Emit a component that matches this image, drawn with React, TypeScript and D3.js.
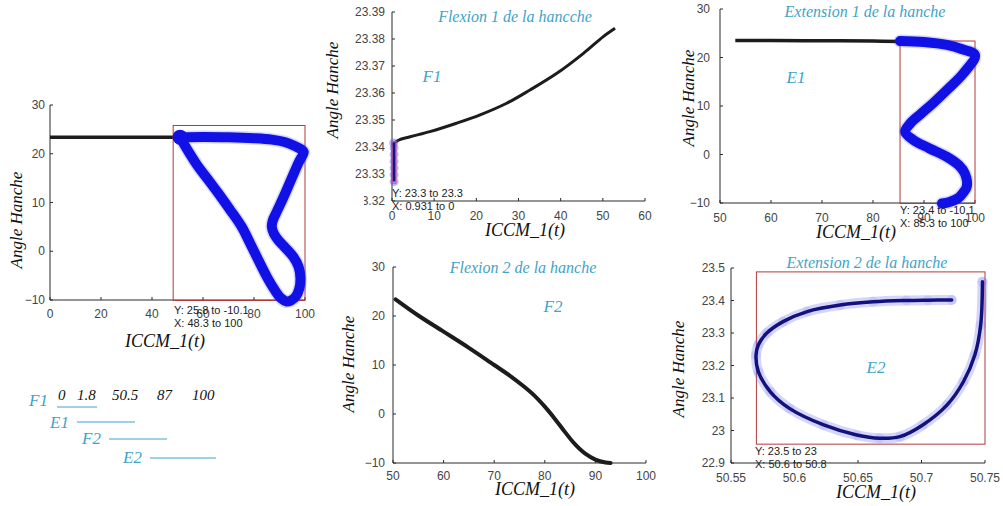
import React from "react";
import * as d3 from "d3";

// ---------------- DATA ----------------
// Panel A (full trajectory with brush)
const panelA_blackX = [0, 10, 20, 30, 40, 48.3];
const panelA_blackY = [23.4, 23.4, 23.4, 23.4, 23.4, 23.4];
const panelA_loopX = [51, 60, 70, 80, 87, 92, 96, 98.5, 99.5, 97.5, 94.5, 91.5, 89, 87.3, 87, 87.8, 89.5, 92.5, 95.5, 97.5, 98.2, 97.8, 96.5, 94.5, 92.8, 90.5, 88.2, 85, 81.7, 78.5, 75.2, 70.5, 66, 62, 58.2, 54.5, 51];
const panelA_loopY = [23.4, 23.45, 23.4, 23.2, 22.9, 22.4, 21.6, 20.9, 20.4, 18.2, 14.6, 11, 8.2, 6.2, 5, 3.6, 2.3, 0.6, -1.2, -3.2, -5.5, -7.6, -9.2, -10.1, -10.3, -9.6, -8, -5.2, -1.8, 1.6, 5, 8.6, 11.9, 14.7, 17.3, 20.3, 23.4];
const panelA_brushX = [48.3, 100];
const panelA_brushY = [-10.1, 25.8];
const panelA_tip = ["Y: 25.8 to -10.1", "X: 48.3 to 100"];

// F1 : Flexion 1
const f1X = [0, 1.5, 4.3, 9, 15.3, 20.9, 27.2, 32.7, 39.1, 45.4, 50.1, 52.9];
const f1Y = [23.3407, 23.3425, 23.3438, 23.3457, 23.3488, 23.3519, 23.3562, 23.3611, 23.3673, 23.3747, 23.3809, 23.384];
const f1BlueX = [0.5, 0.5, 0.5, 0.5, 0.5, 0.5, 0.4];
const f1BlueY = [23.3272, 23.3297, 23.3322, 23.3347, 23.3372, 23.3397, 23.3415];
const f1BrushX = [0, 0.931];
const f1BrushY = [23.3266, 23.342];
const f1Tip = ["Y: 23.3 to 23.3", "X: 0.931 to 0"];

// F2 : Flexion 2
const f2X = [50.5, 55, 60, 65, 70, 73, 76, 78, 80, 82, 84, 86, 88, 90, 92, 93];
const f2Y = [23.4, 20.1, 16.8, 13.5, 10, 7.9, 5.5, 3.7, 1.5, -1.0, -3.7, -6.2, -8.1, -9.3, -9.9, -10];

// E1 : Extension 1
const e1BlackX = [53, 60, 70, 80, 85.3];
const e1BlackY = [23.5, 23.48, 23.45, 23.4, 23.3];
const e1BlueX = [85.3, 90, 94.5, 97.5, 100, 97.7, 94.8, 91.8, 89.3, 87.3, 86.3, 87.9, 91, 94.5, 96.8, 98, 98.4, 97.6, 96.7, 95, 93.5];
const e1BlueY = [23.4, 23.2, 22.6, 21.7, 20.5, 16.7, 13.6, 10.6, 8.3, 6.4, 4.7, 3.0, 1.3, -0.5, -2.2, -3.9, -6.6, -8, -9.0, -9.8, -10.1];
const e1BrushX = [85.3, 100];
const e1BrushY = [-10.1, 23.4];
const e1Tip = ["Y: 23.4 to -10.1", "X: 85.3 to 100"];

// E2 : Extension 2
const e2X = [50.7238, 50.705, 50.688, 50.662, 50.636, 50.61, 50.591, 50.578, 50.5715, 50.5697, 50.5715, 50.581, 50.596, 50.623, 50.649, 50.667, 50.683, 50.701, 50.72, 50.733, 50.742, 50.7466, 50.748];
const e2Y = [23.4015, 23.401, 23.4, 23.396, 23.386, 23.366, 23.335, 23.299, 23.263, 23.232, 23.181, 23.119, 23.068, 23.017, 22.986, 22.976, 22.981, 23.017, 23.078, 23.15, 23.232, 23.325, 23.458];
const e2BrushX = [50.57, 50.75];
const e2BrushY = [22.958, 23.488];
const e2Tip = ["Y: 23.5 to 23", "X: 50.6 to 50.8"];

// Ticks
const ticksA_X = [0, 20, 40, 60, 80, 100];
const ticksA_Y = [-10, 0, 10, 20, 30];
const ticksF1_X = [0, 10, 20, 30, 40, 50, 60];
const ticksF1_Y = [23.32, 23.33, 23.34, 23.35, 23.36, 23.37, 23.38, 23.39];
const ticks50_100 = [50, 60, 70, 80, 90, 100];
const ticksAngle = [-10, 0, 10, 20, 30];
const ticksE2_X = [50.55, 50.6, 50.65, 50.7, 50.75];
const ticksE2_Y = [22.9, 23, 23.1, 23.2, 23.3, 23.4, 23.5];

// Texts
const yLabel = "Angle Hanche";
const xLabel = "ICCM_1(t)";
const titles = ["Flexion 1 de la hancche", "Flexion 2 de la hanche", "Extension 1 de la hanche", "Extension 2 de la hanche"];
const phaseNames = ["F1", "E1", "F2", "E2"];
const legendNums = ["0", "1.8", "50.5", "87", "100"];

// ---------------- STYLE ----------------
const AXIS = "#2b2b2b";
const TICKTXT = "#454545";
const CYAN = "#3fa3c7";
const SERIF = "'Liberation Serif', 'DejaVu Serif', serif";
const SANS = "'Liberation Sans', Arial, sans-serif";
const BRUSH = "#b23a3a";

type Pt = [number, number];
const zip = (xs: number[], ys: number[]): Pt[] => xs.map((v, i) => [v, ys[i]]);
const fmt = d3.format("~g");

interface AxProps {
  x: d3.ScaleLinear<number, number>;
  y: d3.ScaleLinear<number, number>;
  xt: number[];
  yt: number[];
  fs: number;
  xdy: number;
  ydx: number;
}

function Axes({ x, y, xt, yt, fs, xdy, ydx }: AxProps) {
  const [x0, x1] = x.range();
  const [y0, y1] = y.range();
  return (
    <g>
      <line x1={x0} x2={x1} y1={y0} y2={y0} stroke={AXIS} strokeWidth={1} />
      <line x1={x0} x2={x0} y1={y0} y2={y1} stroke={AXIS} strokeWidth={1} />
      {xt.map((t) => (
        <g key={"x" + t}>
          <line x1={x(t)} x2={x(t)} y1={y0} y2={y0 - 3} stroke={AXIS} />
          <text x={x(t)} y={y0 + xdy} textAnchor="middle" fontSize={fs} fill={TICKTXT} fontFamily={SANS}>{fmt(t)}</text>
        </g>
      ))}
      {yt.map((t) => (
        <g key={"y" + t}>
          <line x1={x0} x2={x0 + 3} y1={y(t)} y2={y(t)} stroke={AXIS} />
          <text x={x0 - ydx} y={y(t)} dy="0.35em" textAnchor="end" fontSize={fs} fill={TICKTXT} fontFamily={SANS}>{fmt(t)}</text>
        </g>
      ))}
    </g>
  );
}

function YLab({ x, cy }: { x: number; cy: number }) {
  return (
    <text transform={`translate(${x},${cy}) rotate(-90)`} textAnchor="middle" fontSize={17} fontStyle="italic" fontFamily={SERIF} fill="#111">{yLabel}</text>
  );
}
function XLab({ cx, y }: { cx: number; y: number }) {
  return (
    <text x={cx} y={y} textAnchor="middle" fontSize={18} fontStyle="italic" fontFamily={SERIF} fill="#111">{xLabel}</text>
  );
}
function Tip({ x, y, lines }: { x: number; y: number; lines: string[] }) {
  return (
    <g fontFamily={SANS} fontSize={11} fill="#222">
      <text x={x} y={y}>{lines[0]}</text>
      <text x={x} y={y + 13}>{lines[1]}</text>
    </g>
  );
}
function Brush({ x, y, bx, by, color = BRUSH }: any) {
  const xa = x(bx[0]), xb = x(bx[1]), ya = y(by[1]), yb = y(by[0]);
  return <rect x={xa} y={ya} width={xb - xa} height={yb - ya} fill="none" stroke={color} strokeWidth={1} />;
}

export default function App() {
  // ---- Panel A ----
  const ax = d3.scaleLinear().domain([0, 100]).range([50, 305]);
  const ay = d3.scaleLinear().domain([-10, 30]).range([300, 105]);
  const aLine = d3.line<Pt>().x((d) => ax(d[0])).y((d) => ay(d[1])).curve(d3.curveCatmullRom.alpha(0.5));
  const aLoop = zip(panelA_loopX, panelA_loopY);

  // ---- F1 ----
  const f1x = d3.scaleLinear().domain([0, 60]).range([392, 645]);
  const f1y = d3.scaleLinear().domain([23.32, 23.39]).range([201, 12]);
  const f1Line = d3.line<Pt>().x((d) => f1x(d[0])).y((d) => f1y(d[1])).curve(d3.curveCatmullRom.alpha(0.5));
  const f1Blue = zip(f1BlueX, f1BlueY);

  // ---- F2 ----
  const f2x = d3.scaleLinear().domain([50, 100]).range([393, 646]);
  const f2y = d3.scaleLinear().domain([-10, 30]).range([463, 267]);
  const f2Line = d3.line<Pt>().x((d) => f2x(d[0])).y((d) => f2y(d[1])).curve(d3.curveCatmullRom.alpha(0.5));

  // ---- E1 ----
  const e1x = d3.scaleLinear().domain([50, 100]).range([720, 975]);
  const e1y = d3.scaleLinear().domain([-10, 30]).range([203, 9]);
  const e1Line = d3.line<Pt>().x((d) => e1x(d[0])).y((d) => e1y(d[1])).curve(d3.curveCatmullRom.alpha(0.5));

  // ---- E2 ----
  const e2x = d3.scaleLinear().domain([50.55, 50.75]).range([731, 985]);
  const e2y = d3.scaleLinear().domain([22.9, 23.5]).range([463, 268]);
  const e2Line = d3.line<Pt>().x((d) => e2x(d[0])).y((d) => e2y(d[1])).curve(d3.curveCatmullRom.alpha(0.5));
  const e2Pts = zip(e2X, e2Y);

  const legendNumX = [58, 77, 112, 157, 192];
  const legendRows = [
    { lx: 29, ly: 406, x1: 57, x2: 97, y: 407 },
    { lx: 50, ly: 428, x1: 77, x2: 135, y: 422 },
    { lx: 82, ly: 444, x1: 109, x2: 167, y: 439 },
    { lx: 123, ly: 463, x1: 150, x2: 216, y: 458 },
  ];

  return (
    <svg width={1003} height={506} style={{ position: "absolute", left: 0, top: 0, background: "#fff" }}>
      <rect width={1003} height={506} fill="#fff" />

      {/* ---------- Panel A ---------- */}
      <g>
        <Axes x={ax} y={ay} xt={ticksA_X} yt={ticksA_Y} fs={12} xdy={18} ydx={5} />
        <path d={aLine(zip(panelA_blackX, panelA_blackY)) || ""} fill="none" stroke="#1c1c1c" strokeWidth={3.5} />
        <Brush x={ax} y={ay} bx={panelA_brushX} by={panelA_brushY} />
        <path d={aLine(aLoop) || ""} fill="none" stroke="#3a3aff" strokeOpacity={0.2} strokeWidth={13} strokeLinejoin="round" />
        <path d={aLine(aLoop) || ""} fill="none" stroke="#1111e6" strokeWidth={10} strokeLinejoin="round" strokeLinecap="round" />
        <circle cx={ax(aLoop[0][0])} cy={ay(aLoop[0][1])} r={7.5} fill="#1111e6" />
        <Tip x={174} y={314} lines={panelA_tip} />
        <YLab x={22} cy={220} />
        <XLab cx={165} y={347} />
      </g>

      {/* ---------- F1 ---------- */}
      <g>
        <Axes x={f1x} y={f1y} xt={ticksF1_X} yt={ticksF1_Y} fs={12} xdy={19} ydx={7} />
        <rect x={350} y={194} width={14} height={14} fill="#fff" />
        <path d={f1Line(zip(f1X, f1Y)) || ""} fill="none" stroke="#1c1c1c" strokeWidth={3} />
        {f1Blue.map((d, i) => (
          <circle key={i} cx={f1x(d[0])} cy={f1y(d[1])} r={4.5} fill="#5a5aff" fillOpacity={0.45} />
        ))}
        <path d={f1Line(f1Blue) || ""} fill="none" stroke="#14148a" strokeWidth={3} />
        <Brush x={f1x} y={f1y} bx={f1BrushX} by={f1BrushY} color="#d8407a" />
        <Tip x={392} y={197} lines={f1Tip} />
        <text x={515} y={22} textAnchor="middle" fontSize={16} fontStyle="italic" fontFamily={SERIF} fill={CYAN}>{titles[0]}</text>
        <text x={432} y={82} textAnchor="middle" fontSize={17} fontStyle="italic" fontFamily={SERIF} fill={CYAN}>{phaseNames[0]}</text>
        <YLab x={338} cy={90} />
        <XLab cx={525} y={236} />
      </g>

      {/* ---------- F2 ---------- */}
      <g>
        <Axes x={f2x} y={f2y} xt={ticks50_100} yt={ticksAngle} fs={12} xdy={17} ydx={8} />
        <path d={f2Line(zip(f2X, f2Y)) || ""} fill="none" stroke="#1c1c1c" strokeWidth={4} strokeLinecap="round" />
        <text x={523} y={273} textAnchor="middle" fontSize={16} fontStyle="italic" fontFamily={SERIF} fill={CYAN}>{titles[1]}</text>
        <text x={553} y={312} textAnchor="middle" fontSize={17} fontStyle="italic" fontFamily={SERIF} fill={CYAN}>{phaseNames[2]}</text>
        <YLab x={354} cy={364} />
        <XLab cx={535} y={495} />
      </g>

      {/* ---------- E1 ---------- */}
      <g>
        <Axes x={e1x} y={e1y} xt={ticks50_100} yt={ticksAngle} fs={12} xdy={19} ydx={10} />
        <path d={e1Line(zip(e1BlackX, e1BlackY)) || ""} fill="none" stroke="#1c1c1c" strokeWidth={3.5} />
        <Brush x={e1x} y={e1y} bx={e1BrushX} by={e1BrushY} />
        <path d={e1Line(zip(e1BlueX, e1BlueY)) || ""} fill="none" stroke="#3a3aff" strokeOpacity={0.2} strokeWidth={13} strokeLinejoin="round" strokeLinecap="round" />
        <path d={e1Line(zip(e1BlueX, e1BlueY)) || ""} fill="none" stroke="#1111e6" strokeWidth={10} strokeLinejoin="round" strokeLinecap="round" />
        <Tip x={900} y={214} lines={e1Tip} />
        <text x={865} y={17} textAnchor="middle" fontSize={16} fontStyle="italic" fontFamily={SERIF} fill={CYAN}>{titles[2]}</text>
        <text x={796} y={83} textAnchor="middle" fontSize={17} fontStyle="italic" fontFamily={SERIF} fill={CYAN}>{phaseNames[1]}</text>
        <YLab x={694} cy={98} />
        <XLab cx={856} y={238} />
      </g>

      {/* ---------- E2 ---------- */}
      <g>
        <Axes x={e2x} y={e2y} xt={ticksE2_X} yt={ticksE2_Y} fs={12} xdy={19} ydx={6} />
        <Brush x={e2x} y={e2y} bx={e2BrushX} by={e2BrushY} />
        {e2Pts.map((d, i) => (
          <circle key={i} cx={e2x(d[0])} cy={e2y(d[1])} r={5} fill="#6a6af5" fillOpacity={0.15} />
        ))}
        <path d={e2Line(e2Pts) || ""} fill="none" stroke="#6a6af0" strokeOpacity={0.28} strokeWidth={10} strokeLinecap="round" />
        <path d={e2Line(e2Pts) || ""} fill="none" stroke="#12127e" strokeWidth={3.5} strokeLinecap="round" />
        <Tip x={755} y={455} lines={e2Tip} />
        <text x={867} y={268} textAnchor="middle" fontSize={16} fontStyle="italic" fontFamily={SERIF} fill={CYAN}>{titles[3]}</text>
        <text x={876} y={373} textAnchor="middle" fontSize={17} fontStyle="italic" fontFamily={SERIF} fill={CYAN}>{phaseNames[3]}</text>
        <YLab x={684} cy={369} />
        <XLab cx={876} y={498} />
      </g>

      {/* ---------- Phase legend ---------- */}
      <g>
        {legendNums.map((t, i) => (
          <text key={t} x={legendNumX[i]} y={400} fontSize={15} fontStyle="italic" fontFamily={SERIF} fill="#111">{t}</text>
        ))}
        {phaseNames.map((p, i) => (
          <g key={p}>
            <text x={legendRows[i].lx} y={legendRows[i].ly} fontSize={17} fontStyle="italic" fontFamily={SERIF} fill={CYAN}>{p}</text>
            <line x1={legendRows[i].x1} x2={legendRows[i].x2} y1={legendRows[i].y} y2={legendRows[i].y} stroke={CYAN} strokeWidth={1} />
          </g>
        ))}
      </g>
    </svg>
  );
}
